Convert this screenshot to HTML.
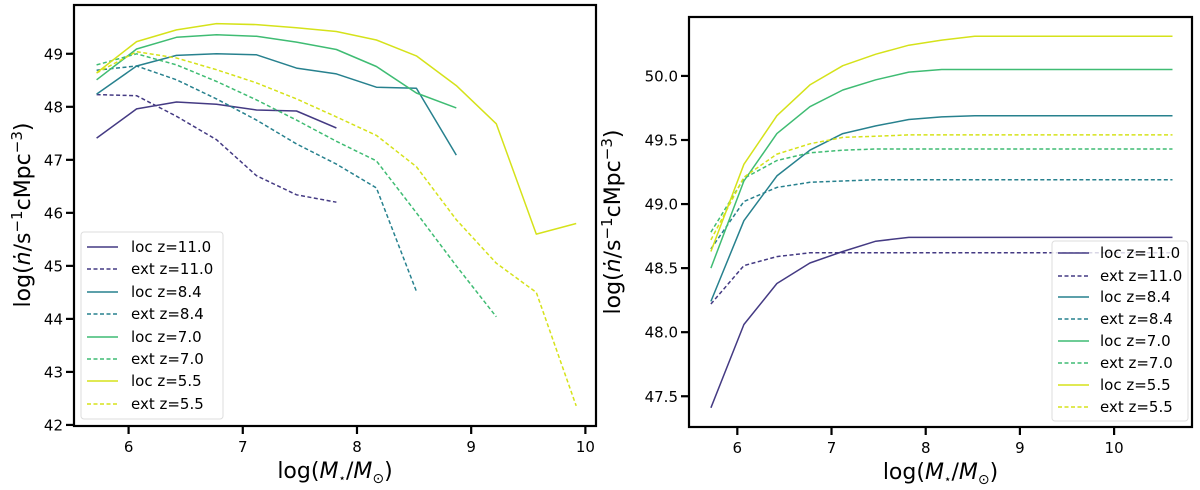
<!DOCTYPE html>
<html><head><meta charset="utf-8"><style>
html,body{margin:0;padding:0;background:#fff;}
svg{display:block;font-family:"DejaVu Sans","Liberation Sans",sans-serif;}
</style></head><body>
<svg id="fig" width="1200" height="490" viewBox="0 0 1200 490" xmlns="http://www.w3.org/2000/svg"></svg>
<script>
// ---------- data ----------
const seriesNames = ["loc z=11.0","ext z=11.0","loc z=8.4","ext z=8.4","loc z=7.0","ext z=7.0","loc z=5.5","ext z=5.5"];
const seriesColors = ["#443a83","#443a83","#27818e","#27818e","#3fbc73","#3fbc73","#d5e21a","#d5e21a"];
const seriesDashed = [false,true,false,true,false,true,false,true];
const massGrid = [5.72,6.07,6.42,6.77,7.12,7.47,7.82,8.17,8.52,8.87,9.22,9.57,9.92,10.27,10.62];
// left panel values
const leftLoc110 = [47.41,47.96,48.09,48.05,47.94,47.92,47.60];
const leftExt110 = [48.23,48.21,47.82,47.38,46.70,46.34,46.20];
const leftLoc84 = [48.24,48.77,48.97,49.00,48.98,48.73,48.62,48.37,48.35,47.09];
const leftExt84 = [48.69,48.77,48.51,48.15,47.75,47.30,46.92,46.47,44.52];
const leftLoc70 = [48.51,49.09,49.31,49.36,49.33,49.22,49.08,48.76,48.26,47.98];
const leftExt70 = [48.79,49.00,48.79,48.48,48.13,47.75,47.35,46.98,46.00,45.00,44.04];
const leftLoc55 = [48.64,49.23,49.45,49.57,49.55,49.49,49.42,49.26,48.96,48.40,47.68,45.60,45.80];
const leftExt55 = [48.64,49.04,48.92,48.70,48.45,48.15,47.81,47.46,46.87,45.87,45.05,44.50,42.36];
// right panel values
const rightLoc110 = [47.41,48.06,48.38,48.54,48.63,48.71,48.74,48.74,48.74,48.74,48.74,48.74,48.74,48.74,48.74];
const rightExt110 = [48.22,48.52,48.59,48.62,48.62,48.62,48.62,48.62,48.62,48.62,48.62,48.62,48.62,48.62,48.62];
const rightLoc84 = [48.24,48.87,49.22,49.42,49.55,49.61,49.66,49.68,49.69,49.69,49.69,49.69,49.69,49.69,49.69];
const rightExt84 = [48.65,49.02,49.13,49.17,49.18,49.19,49.19,49.19,49.19,49.19,49.19,49.19,49.19,49.19,49.19];
const rightLoc70 = [48.50,49.18,49.55,49.76,49.89,49.97,50.03,50.05,50.05,50.05,50.05,50.05,50.05,50.05,50.05];
const rightExt70 = [48.78,49.20,49.34,49.40,49.42,49.43,49.43,49.43,49.43,49.43,49.43,49.43,49.43,49.43,49.43];
const rightLoc55 = [48.63,49.31,49.69,49.93,50.08,50.17,50.24,50.28,50.31,50.31,50.31,50.31,50.31,50.31,50.31];
const rightExt55 = [48.72,49.21,49.39,49.47,49.52,49.53,49.54,49.54,49.54,49.54,49.54,49.54,49.54,49.54,49.54];
const leftXTicks = [6,7,8,9,10];
const leftYTicks = [42,43,44,45,46,47,48,49];
const rightXTicks = [6,7,8,9,10];
const rightYTicks = ["47.5","48.0","48.5","49.0","49.5","50.0"];

const NS="http://www.w3.org/2000/svg";
const svg=document.getElementById('fig');
function mk(tag,attrs,parent){const e=document.createElementNS(NS,tag);for(const k in attrs)e.setAttribute(k,attrs[k]);(parent||svg).appendChild(e);return e;}

function panel(cfg){
  const g=mk('g',{});
  
  
  const sx=v=>cfg.x0+(v-cfg.xmin)/(cfg.xmax-cfg.xmin)*(cfg.x1-cfg.x0);
  const sy=v=>cfg.y1-(v-cfg.ymin)/(cfg.ymax-cfg.ymin)*(cfg.y1-cfg.y0);
  cfg.series.forEach((vals,i)=>{
    const pts=vals.map((v,k)=>sx(massGrid[k]).toFixed(1)+','+sy(v).toFixed(1)).join(' ');
    const p=mk('polyline',{points:pts,fill:'none',stroke:seriesColors[i],'stroke-width':1.5,'stroke-linejoin':'round'},g);
    if(seriesDashed[i]) p.setAttribute('stroke-dasharray','4,2.5');
    
    
  });
  const fr=mk('rect',{x:cfg.x0,y:cfg.y0,width:cfg.x1-cfg.x0,height:cfg.y1-cfg.y0,fill:'none',stroke:'#000','stroke-width':2.2},g);
  
  
  cfg.xticks.forEach(t=>{
    const x=sx(+t);
    mk('line',{x1:x,x2:x,y1:cfg.y1,y2:cfg.y1+8,stroke:'#000','stroke-width':2.2},g);
    const tx=mk('text',{x:x,y:cfg.y1+26,'font-size':15,'text-anchor':'middle'},g);
    tx.textContent=t;
    
    
  });
  cfg.yticks.forEach(t=>{
    const y=sy(+t);
    mk('line',{x1:cfg.x0-8,x2:cfg.x0,y1:y,y2:y,stroke:'#000','stroke-width':2.2},g);
    const tx=mk('text',{x:cfg.x0-11,y:y+5.5,'font-size':15,'text-anchor':'end'},g);
    tx.textContent=t;
    
    
  });
  const xt=mk('text',{x:(cfg.x0+cfg.x1)/2,y:cfg.y1+52,'font-size':22,'text-anchor':'middle'},g);
  xt.innerHTML='log(<tspan font-style="italic">M</tspan><tspan font-size="12" dy="4">\u22C6</tspan><tspan dy="-4">/</tspan><tspan font-style="italic">M</tspan><tspan font-size="14" dy="5">\u2299</tspan><tspan dy="-5">)</tspan>';
  
  
  const yt=mk('text',{x:0,y:0,'font-size':22,'text-anchor':'middle',transform:`translate(${cfg.ytx},${cfg.yty}) rotate(-90)`},g);
  yt.innerHTML='log(<tspan font-style="italic">\u1E45</tspan>/s<tspan font-size="15" dy="-8">\u22121</tspan><tspan dy="8">cMpc</tspan><tspan font-size="15" dy="-8">\u22123</tspan><tspan dy="8">)</tspan>';
  
  
  const L=cfg.legend;
  const lg=mk('g',{},g);
  
  
  mk('rect',{x:L.x,y:L.y,width:L.w,height:L.h,rx:3,fill:'#fff','fill-opacity':0.8,stroke:'#ddd','stroke-width':1},lg);
  seriesNames.forEach((n,i)=>{
    const y=L.rows[i];
    const ln=mk('line',{x1:L.lx,x2:L.lx+31,y1:y,y2:y,stroke:seriesColors[i],'stroke-width':1.5},lg);
    if(seriesDashed[i]) ln.setAttribute('stroke-dasharray','4,2.5');
    const t=mk('text',{x:L.tx,y:y+5,'font-size':15},lg);
    t.textContent=n;
    
    
  });
}

panel({name:'left-panel',x0:74,x1:596,y0:5,y1:426,xmin:5.522,xmax:10.093,ymin:41.98,ymax:49.92,
  series:[leftLoc110,leftExt110,leftLoc84,leftExt84,leftLoc70,leftExt70,leftLoc55,leftExt55],
  xticks:leftXTicks,yticks:leftYTicks,ytx:30,yty:215,
  legend:{x:81,y:232,w:142,h:187,lx:87,tx:131,rows:[247,269,292,314,337,359,381,404]}});
panel({name:'right-panel',x0:689,x1:1192,y0:17,y1:427,xmin:5.487,xmax:10.827,ymin:47.26,ymax:50.46,
  series:[rightLoc110,rightExt110,rightLoc84,rightExt84,rightLoc70,rightExt70,rightLoc55,rightExt55],
  xticks:rightXTicks,yticks:rightYTicks,ytx:620,yty:222,
  legend:{x:1052,y:241,w:136,h:180,lx:1058,tx:1100,rows:[253,276,297,319,341,363,385,407]}});
</script>
</body></html>
